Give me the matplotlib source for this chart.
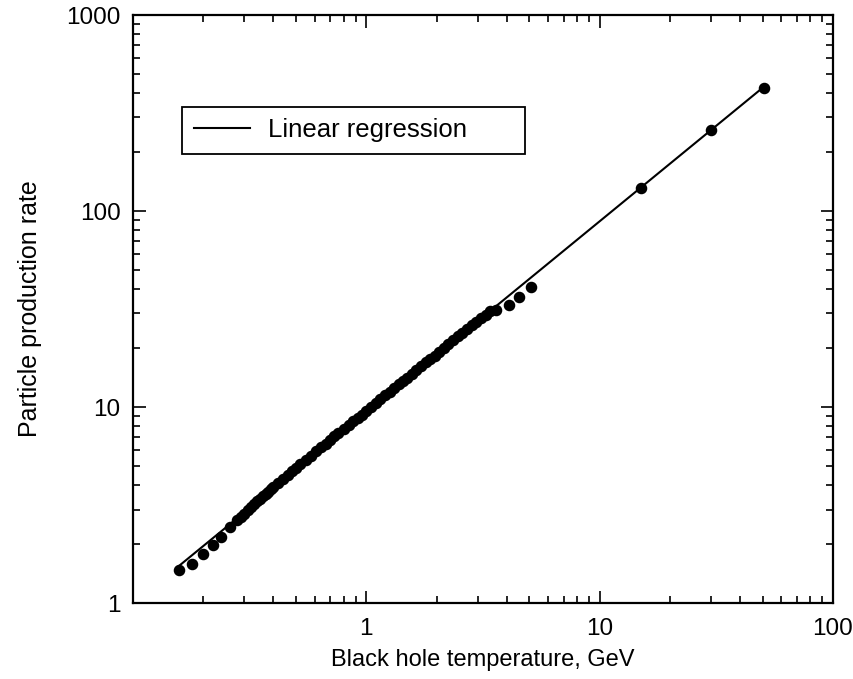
import matplotlib.pyplot as plt
import numpy as np

plt.rcParams['font.family'] = ['Liberation Sans', 'DejaVu Sans']

# black hole temperature (GeV) and particle production rate
temp = [0.157, 0.179, 0.200, 0.220, 0.239, 0.261, 0.28, 0.29, 0.30, 0.31,
        0.32, 0.33, 0.34, 0.35, 0.36, 0.37, 0.38, 0.39, 0.40, 0.42,
        0.44, 0.46, 0.48, 0.50, 0.52, 0.55, 0.58, 0.61, 0.64, 0.67,
        0.70, 0.73, 0.76, 0.80, 0.84, 0.88, 0.92, 0.96, 1.00, 1.05,
        1.10, 1.15, 1.20, 1.26, 1.32, 1.38, 1.44, 1.50, 1.57, 1.64,
        1.72, 1.80, 1.88, 1.96, 2.05, 2.15, 2.25, 2.35, 2.46, 2.58,
        2.70, 2.83, 2.96, 3.10, 3.25, 3.40, 3.61, 4.07, 4.49, 5.06,
        15.1, 30.0, 50.6]
rate = [1.47, 1.58, 1.78, 1.98, 2.17, 2.44, 2.66, 2.76, 2.86, 2.97,
        3.08, 3.19, 3.30, 3.40, 3.50, 3.60, 3.70, 3.80, 3.90, 4.10,
        4.30, 4.50, 4.70, 4.90, 5.09, 5.37, 5.62, 5.94, 6.25, 6.48,
        6.78, 7.10, 7.34, 7.68, 8.09, 8.50, 8.83, 9.15, 9.57, 10.05,
        10.45, 10.95, 11.45, 11.92, 12.51, 13.10, 13.60, 14.12, 14.80, 15.48,
        16.10, 16.89, 17.65, 18.30, 19.15, 20.10, 20.90, 21.85, 22.90, 23.85,
        24.98, 26.20, 27.20, 28.40, 29.60, 30.80, 31.2, 33.1, 36.3, 41.0,
        131.0, 259.0, 424.0]

# power law fit in log-log space
logx = np.log10(temp)
logy = np.log10(rate)
slope, icept = np.polyfit(logx, logy, 1)
xfit = np.array([min(temp), max(temp)])
yfit = 10 ** (icept + slope * np.log10(xfit))

fig = plt.figure(figsize=(8.54, 6.79), dpi=100)
ax = fig.add_axes([0.1557, 0.1119, 0.8197, 0.866])

ax.plot(xfit, yfit, color='black', linewidth=1.5, label='Linear regression')
ax.plot(temp, rate, 'o', color='black', markersize=7.3)

ax.set_xscale('log')
ax.set_yscale('log')
ax.set_xlim(0.1, 100)
ax.set_ylim(1, 1000)
ax.set_xticks([1, 10, 100])
ax.set_xticklabels(['1', '10', '100'])
ax.set_yticks([1, 10, 100, 1000])
ax.set_yticklabels(['1', '10', '100', '1000'])

ax.tick_params(which='both', direction='in', top=True, right=True, width=1.2)
ax.tick_params(which='major', length=9)
ax.tick_params(which='minor', length=5)
ax.tick_params(axis='x', which='major', labelsize=17.5, pad=11)
ax.tick_params(axis='y', which='major', labelsize=17.5, pad=9)
for s in ax.spines.values():
    s.set_linewidth(1.6)

ax.set_xlabel('Black hole temperature, GeV', fontsize=17, labelpad=6)
ax.set_ylabel('Particle production rate', fontsize=18, labelpad=17)

leg = ax.legend(loc='upper left', bbox_to_anchor=(0.07, 0.762, 0.49, 0.082),
                mode='expand', fontsize=18.5, frameon=True, fancybox=False,
                edgecolor='black', framealpha=1, borderpad=0.45,
                handlelength=2.2, handletextpad=0.7, borderaxespad=0)
leg.get_frame().set_linewidth(1.3)

fig.savefig('out.png', dpi=100)
